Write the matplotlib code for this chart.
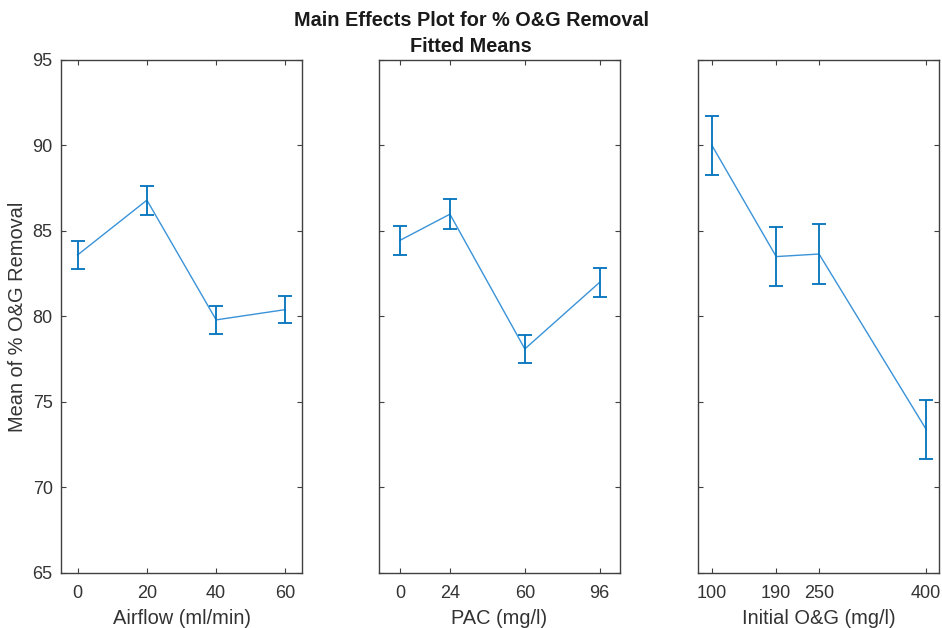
import numpy as np
import matplotlib.pyplot as plt

plt.rcParams['font.family'] = ['Liberation Sans', 'DejaVu Sans']

# factor levels and fitted means
airflow = [0, 20, 40, 60]
airflow_mean = [83.6, 86.8, 79.8, 80.4]
airflow_err = [0.8, 0.85, 0.8, 0.8]

pac = [0, 24, 60, 96]
pac_mean = [84.45, 85.98, 78.1, 82.0]
pac_err = [0.85, 0.88, 0.83, 0.85]

init_og = [100, 190, 250, 400]
init_og_mean = [90.0, 83.5, 83.65, 73.4]
init_og_err = [1.73, 1.73, 1.73, 1.73]

xlabels = ['Airflow (ml/min)', 'PAC (mg/l)', 'Initial O&G (mg/l)']
xlims = [(-4.8, 64.8), (-10.1, 105.7), (80.5, 418.0)]
yticks = [65, 70, 75, 80, 85, 90, 95]

panels = [(airflow, airflow_mean, airflow_err),
          (pac, pac_mean, pac_err),
          (init_og, init_og_mean, init_og_err)]

fig = plt.figure(figsize=(9.42, 6.28), dpi=100)
lefts = [0.0648, 0.4023, 0.741]
width = 0.2558
bottom, height = 0.0876, 0.817

grey = '#404040'
for i, (x, m, e) in enumerate(panels):
    ax = fig.add_axes([lefts[i], bottom, width, height])
    ax.plot(x, m, color='#3a93d8', lw=1.0)
    ax.errorbar(x, m, yerr=e, fmt='none', ecolor='#0072BD', elinewidth=1.3,
                capsize=4.8, capthick=1.3)
    ax.set_xlim(*xlims[i])
    ax.set_ylim(65, 95)
    ax.set_xticks(x)
    ax.set_xticklabels([str(v) for v in x])
    ax.set_yticks(yticks)
    if i > 0:
        ax.set_yticklabels([])
    ax.tick_params(direction='in', length=3.5, width=0.8, colors=grey,
                   labelcolor='#333333', labelsize=13, top=True, right=True,
                   pad=8.5)
    ax.tick_params(axis='y', pad=6)
    for s in ax.spines.values():
        s.set_color(grey)
        s.set_linewidth(1.0)
    ax.set_xlabel(xlabels[i], fontsize=14.4, color='#333333', labelpad=5)
    if i == 0:
        ax.set_ylabel('Mean of % O&G Removal', fontsize=14.4, color='#333333',
                      labelpad=4)

fig.text(0.5, 0.968, 'Main Effects Plot for % O&G Removal', ha='center',
         va='center', fontsize=14.3, fontweight='bold', color='#1a1a1a')
fig.text(0.5, 0.926, 'Fitted Means', ha='center', va='center',
         fontsize=14.3, fontweight='bold', color='#1a1a1a')

fig.savefig('out.png', dpi=100)
